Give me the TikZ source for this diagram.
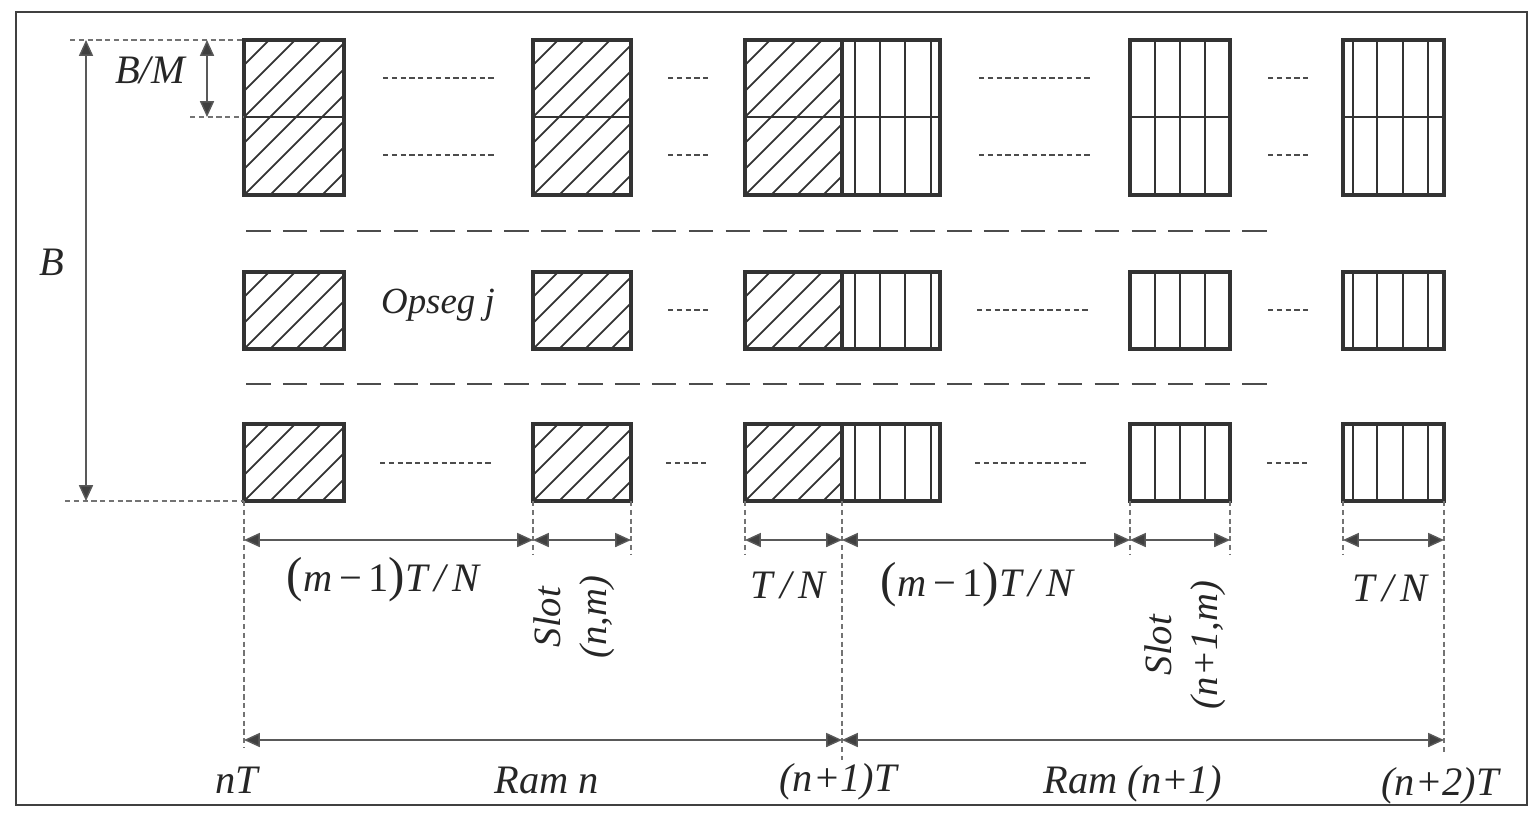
\documentclass[tikz,border=0pt]{standalone}
\usepackage{fontspec}
\setmainfont{Liberation Serif}
\usetikzlibrary{arrows.meta}
\tikzset{
  frame/.style={draw=black!75, line width=1.6pt},
  blk/.style={draw=black!80, line width=2.2pt},
  inner/.style={draw=black!80, line width=1.5pt},
  hatch/.style={draw=black!80, line width=1pt},
  dots/.style={draw=black!70, line width=1.2pt, dash pattern=on 3pt off 2pt},
  sep/.style={draw=black!70, line width=1.6pt, dash pattern=on 14pt off 7pt},
  dim/.style={draw=black!65, line width=0.8pt, {Triangle[length=9pt,width=8pt,fill=black!75]}-{Triangle[length=9pt,width=8pt,fill=black!75]}},
  guide/.style={draw=black!55, line width=0.6pt, dash pattern=on 3pt off 2pt},
  lab/.style={font=\fontsize{23}{27}\selectfont\itshape, inner sep=0pt, text=black!85},
  slotlab/.style={font=\fontsize{22}{26}\selectfont\itshape, inner sep=0pt, rotate=90, align=center, text=black!85},
}
\newcommand{\hatchrect}[4]{%
  \begin{scope}
    \clip (#1,#2) rectangle (#3,#4);
    \foreach \k in {-7,...,5}{\draw[hatch] ({#1+\k*26},#4) -- ++(220,-220);}
  \end{scope}}
\newcommand{\vlinesin}[3]{%
  \foreach \xx in {#3}{\draw[inner] (\xx,#1) -- (\xx,#2);}}
\newcommand{\bigpar}[1]{{\upshape\fontsize{28}{28}\selectfont #1}}
\begin{document}
\begin{tikzpicture}[x=0.02cm,y=-0.02cm]
\useasboundingbox (0,0) rectangle (1530,816);
\draw[frame] (16,12) rectangle (1527,805);

% ---------- row 1 (two sub-rows) ----------
\hatchrect{244}{40}{344}{195}
\draw[inner] (244,117) -- (344,117);
\draw[blk] (244,40) rectangle (344,195);

\hatchrect{533}{40}{631}{195}
\draw[inner] (533,117) -- (631,117);
\draw[blk] (533,40) rectangle (631,195);

\hatchrect{745}{40}{842}{195}
\vlinesin{40}{195}{855,880,905,931}
\draw[inner] (745,117) -- (940,117);
\draw[blk] (842,40) -- (842,195);
\draw[blk] (745,40) rectangle (940,195);

\vlinesin{40}{195}{1155,1180,1205}
\draw[inner] (1130,117) -- (1230,117);
\draw[blk] (1130,40) rectangle (1230,195);

\vlinesin{40}{195}{1353,1377,1403,1428}
\draw[inner] (1343,117) -- (1444,117);
\draw[blk] (1343,40) rectangle (1444,195);

\draw[dots] (383,78) -- (497,78);  \draw[dots] (383,155) -- (497,155);
\draw[dots] (668,78) -- (711,78);  \draw[dots] (668,155) -- (711,155);
\draw[dots] (979,78) -- (1093,78); \draw[dots] (979,155) -- (1093,155);
\draw[dots] (1268,78) -- (1311,78); \draw[dots] (1268,155) -- (1311,155);

\draw[sep] (246,231) -- (1270,231);

% ---------- row 2 ----------
\hatchrect{244}{272}{344}{349}
\draw[blk] (244,272) rectangle (344,349);
\hatchrect{533}{272}{631}{349}
\draw[blk] (533,272) rectangle (631,349);
\hatchrect{745}{272}{842}{349}
\vlinesin{272}{349}{855,880,905,931}
\draw[blk] (842,272) -- (842,349);
\draw[blk] (745,272) rectangle (940,349);
\vlinesin{272}{349}{1155,1180,1205}
\draw[blk] (1130,272) rectangle (1230,349);
\vlinesin{272}{349}{1353,1377,1403,1428}
\draw[blk] (1343,272) rectangle (1444,349);

\node[lab, font=\fontsize{21}{24}\selectfont\itshape] (opseg) at (438,305) {Opseg j};
\draw[dots] (668,310) -- (709,310);
\draw[dots] (977,310) -- (1091,310);
\draw[dots] (1268,310) -- (1310,310);

\draw[sep] (246,384) -- (1270,384);

% ---------- row 3 ----------
\hatchrect{244}{424}{344}{501}
\draw[blk] (244,424) rectangle (344,501);
\hatchrect{533}{424}{631}{501}
\draw[blk] (533,424) rectangle (631,501);
\hatchrect{745}{424}{842}{501}
\vlinesin{424}{501}{855,880,905,931}
\draw[blk] (842,424) -- (842,501);
\draw[blk] (745,424) rectangle (940,501);
\vlinesin{424}{501}{1155,1180,1205}
\draw[blk] (1130,424) rectangle (1230,501);
\vlinesin{424}{501}{1353,1377,1403,1428}
\draw[blk] (1343,424) rectangle (1444,501);

\draw[dots] (380,463) -- (493,463);
\draw[dots] (666,463) -- (707,463);
\draw[dots] (975,463) -- (1089,463);
\draw[dots] (1267,463) -- (1308,463);

% ---------- left dimensions ----------
\coordinate (Btop) at (86,40);
\coordinate (Bbot) at (86,501);
\coordinate (BMtop) at (207,40);
\coordinate (BMbot) at (207,117);
\draw[guide] (70,40) -- (244,40);
\draw[guide] (190,117) -- (244,117);
\draw[guide] (65,501) -- (244,501);
\draw[dim] (Btop) -- (Bbot);
\draw[dim] (BMtop) -- (BMbot);
\node[lab] (lB) at (52,262) {B};
\node[lab] (lBM) at (150,70) {B/M};

% ---------- bottom dimensions ----------
\draw[guide] (244,501) -- (244,748);
\draw[guide] (533,501) -- (533,555);
\draw[guide] (631,501) -- (631,555);
\draw[guide] (745,501) -- (745,555);
\draw[guide] (842,501) -- (842,760);
\draw[guide] (1130,501) -- (1130,555);
\draw[guide] (1230,501) -- (1230,555);
\draw[guide] (1343,501) -- (1343,555);
\draw[guide] (1444,501) -- (1444,752);

\coordinate (d0) at (244,540);
\coordinate (d1) at (533,540);
\coordinate (d2) at (631,540);
\coordinate (d3) at (745,540);
\coordinate (d4) at (842,540);
\coordinate (d5) at (1130,540);
\coordinate (d6) at (1230,540);
\coordinate (d7) at (1343,540);
\coordinate (d8) at (1444,540);
\draw[dim] (d0) -- (d1);
\draw[dim] (d1) -- (d2);
\draw[dim] (d3) -- (d4);
\draw[dim] (d4) -- (d5);
\draw[dim] (d5) -- (d6);
\draw[dim] (d7) -- (d8);

\node[lab] (l1) at (383,580) {\bigpar{(}m\,{\upshape−\,1}\bigpar{)}T\,/\,N};
\node[slotlab] (s1) at (574,617) {Slot\\(n,m)};
\node[lab] (l2) at (788,585) {T\,/\,N};
\node[lab] (l3) at (977,585) {\bigpar{(}m\,{\upshape−\,1}\bigpar{)}T\,/\,N};
\node[slotlab] (s2) at (1185,645) {Slot\\(n+1,m)};
\node[lab] (l4) at (1390,588) {T\,/\,N};

\coordinate (r0) at (244,740);
\coordinate (r1) at (842,740);
\coordinate (r2) at (1444,740);
\draw[dim] (r0) -- (r1);
\draw[dim] (r1) -- (r2);

\node[lab] (t0) at (237,780) {nT};
\node[lab] (t1) at (547,780) {Ram n};
\node[lab] (t2) at (838,782) {(n+1)T};
\node[lab] (t3) at (1133,784) {Ram (n+1)};
\node[lab] (t4) at (1440,786) {(n+2)T};
\end{tikzpicture}
\end{document}
